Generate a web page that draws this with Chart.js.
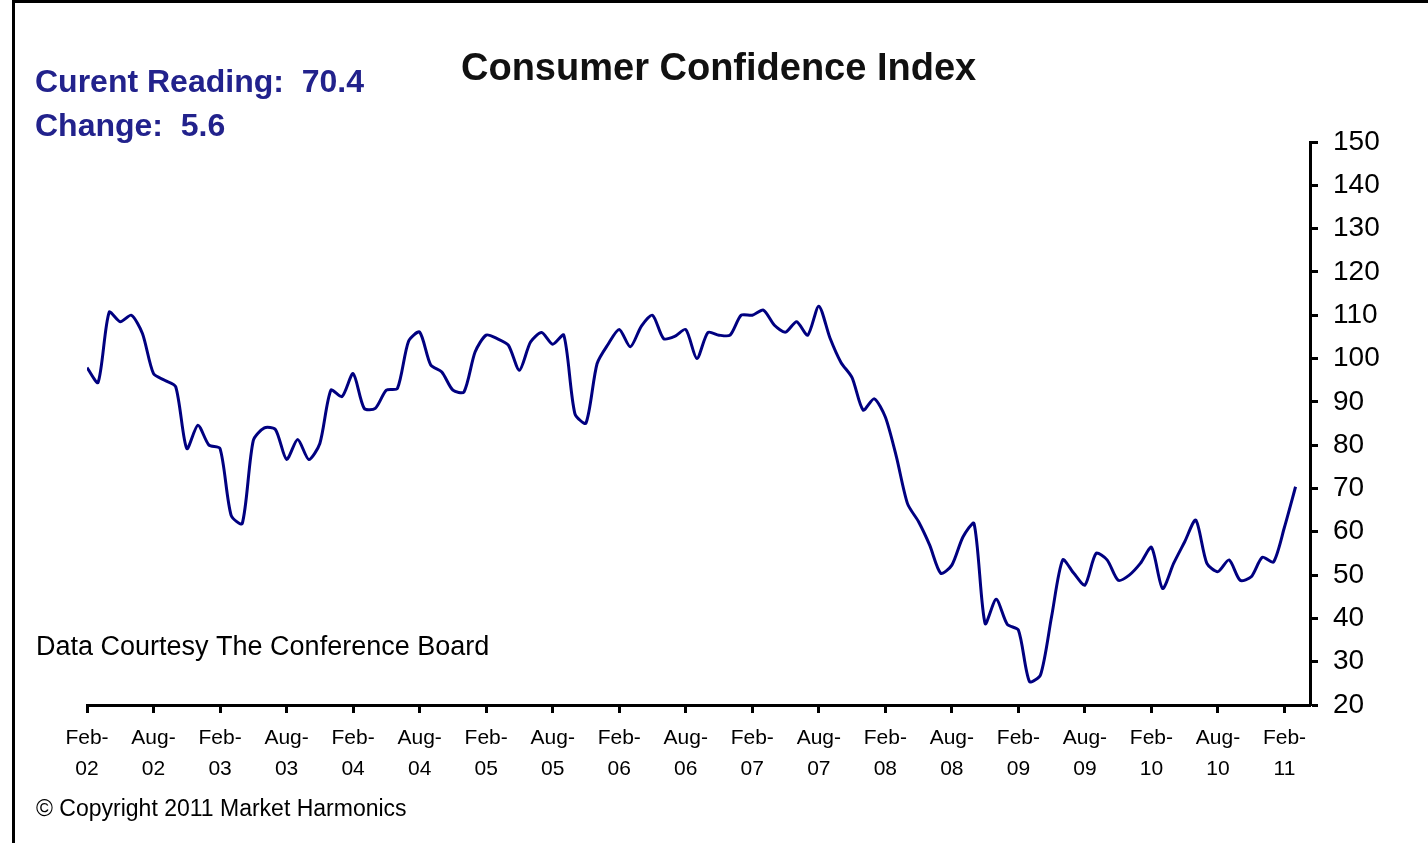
<!DOCTYPE html>
<html>
<head>
<meta charset="utf-8">
<script src="https://cdn.jsdelivr.net/npm/chart.js@4.4.1/dist/chart.umd.min.js"></script>
<style>
html, body { margin: 0; padding: 0; background: #fff; overflow: hidden; }
</style>
</head>
<body>
<canvas id="cci" width="1428" height="843"></canvas>
<script>
// monthly readings, Jan-02 .. Feb-11
const cciValues = [
  97.9, 94.5, 110.7, 108.5, 110.0, 105.8, 96.5, 95.0, 93.5, 79.2, 84.6, 80.0,
  79.2, 63.8, 61.9, 81.1, 84.0, 83.6, 76.7, 81.3, 76.7, 80.4, 92.7, 91.2,
  96.5, 88.5, 88.5, 92.7, 93.1, 104.0, 106.1, 98.5, 96.9, 92.7, 92.3, 101.5,
  105.4, 104.6, 103.1, 97.3, 103.8, 106.0, 103.3, 105.4, 87.3, 85.1, 98.8, 103.3,
  106.7, 102.7, 107.5, 110.0, 104.6, 105.1, 106.7, 100.0, 106.0, 105.4, 105.4, 110.0,
  110.0, 111.2, 107.7, 106.1, 108.5, 105.4, 112.1, 104.8, 99.1, 95.6, 88.1, 90.7,
  86.5, 77.3, 66.5, 62.3, 56.9, 50.4, 52.3, 58.8, 61.9, 38.8, 44.4, 38.6,
  37.3, 25.4, 27.0, 40.5, 53.5, 50.4, 47.7, 55.0, 53.5, 48.8, 50.0, 52.7,
  56.4, 46.9, 52.7, 57.7, 62.7, 52.7, 50.8, 53.5, 48.8, 49.6, 54.1, 53.0,
  61.1, 70.4
];

const tickMonths = ['Feb-','Aug-','Feb-','Aug-','Feb-','Aug-','Feb-','Aug-','Feb-','Aug-',
                    'Feb-','Aug-','Feb-','Aug-','Feb-','Aug-','Feb-','Aug-','Feb-'];
const tickYears  = ['02','02','03','03','04','04','05','05','06','06',
                    '07','07','08','08','09','09','10','10','11'];

const yTicks = { min: 20, max: 150, step: 10 };

const currentReading = '70.4';
const changeReading = '5.6';

const chartTitle = 'Consumer Confidence Index';
const sourceNote = 'Data Courtesy The Conference Board';
const copyNote = '\u00A9 Copyright 2011 Market Harmonics';

const font = '"Liberation Sans", Arial, sans-serif';

const points = cciValues.map((v, i) => ({ x: i, y: v }));

const decor = {
  id: 'decor',
  afterDraw(chart) {
    const c = chart.ctx;
    c.save();
    c.fillStyle = '#000';
    c.fillRect(12, 0, 1416, 3);
    c.fillRect(12, 0, 3, 843);

    c.textAlign = 'left';
    c.textBaseline = 'alphabetic';
    c.fillStyle = '#111';
    c.font = 'bold 38px ' + font;
    c.fillText(chartTitle, 461, 80);

    c.fillStyle = '#22228c';
    c.font = 'bold 32px ' + font;
    c.fillText('Curent Reading:  ' + currentReading, 35, 92);
    c.fillText('Change:  ' + changeReading, 35, 136);

    c.fillStyle = '#000';
    c.font = '27px ' + font;
    c.fillText(sourceNote, 36, 655);
    c.font = '23px ' + font;
    c.fillText(copyNote, 36, 816);
    c.restore();
  }
};

new Chart(document.getElementById('cci'), {
  type: 'line',
  data: {
    datasets: [{
      data: points,
      borderColor: '#000080',
      borderWidth: 3,
      pointRadius: 0,
      tension: 0.25,
      fill: false
    }]
  },
  options: {
    responsive: false,
    animation: false,
    devicePixelRatio: 1,
    layout: { padding: { left: 87, top: 142, right: 0, bottom: 0 } },
    plugins: { legend: { display: false }, tooltip: { enabled: false } },
    scales: {
      x: {
        type: 'linear',
        position: 'bottom',
        min: 0,
        max: 110.3,
        afterFit: s => { s.height = 138; },
        afterBuildTicks: s => { s.ticks = tickMonths.map((m, k) => ({ value: k * 6 })); },
        ticks: {
          autoSkip: false,
          maxRotation: 0,
          padding: 9,
          color: '#000',
          font: { family: font, size: 21, lineHeight: 1.5 },
          callback: (v, i) => [tickMonths[i], tickYears[i]]
        },
        grid: { drawOnChartArea: false, drawTicks: true, tickLength: 8, tickColor: '#000', tickWidth: 3 },
        border: { display: true, color: '#000', width: 3 }
      },
      y: {
        position: 'right',
        min: yTicks.min,
        max: yTicks.max,
        afterFit: s => { s.width = 118; },
        ticks: {
          stepSize: yTicks.step,
          padding: 15,
          color: '#000',
          font: { family: font, size: 28 }
        },
        grid: { drawOnChartArea: false, drawTicks: true, tickLength: 8, tickColor: '#000', tickWidth: 3 },
        border: { display: true, color: '#000', width: 3 }
      }
    }
  },
  plugins: [decor]
});
</script>
</body>
</html>
